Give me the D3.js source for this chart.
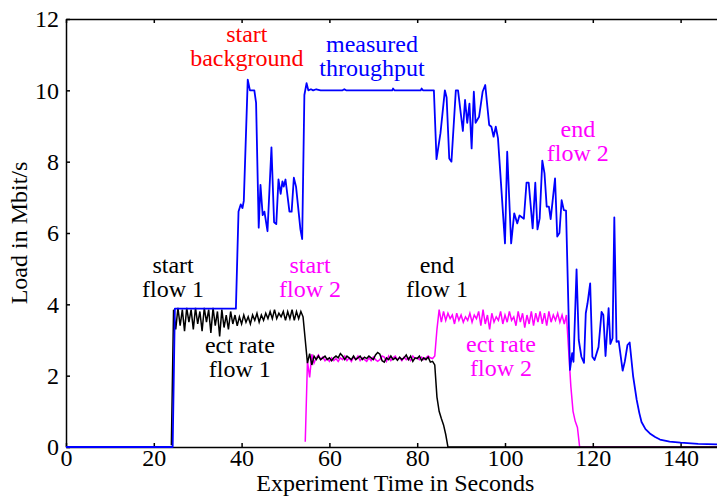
<!DOCTYPE html>
<html lang="en">
<head>
    <meta charset="UTF-8">
    <title>Load in Mbit/s</title>
    <style>
        body { margin: 0; background: #fff; }
        svg { display: block; font-family: "Liberation Serif", "DejaVu Serif", serif; }
    </style>
</head>
<body>
<div id="chart"></div>

<script src="https://cdn.jsdelivr.net/npm/d3@7"></script>
<script>

    // measured throughput, [seconds, Mbit/s]
    let throughput = [
        [0, 0], [24.3, 0], [24.8, 3.88], [38.7, 3.88], [39.3, 6.6], [39.8, 6.8], [40.2, 6.7], [40.5, 6.9],
        [41.4, 10.3], [41.9, 10.0], [42.9, 10.0], [43.3, 9.65], [43.9, 6.15], [44.3, 7.35], [44.8, 6.5],
        [45.2, 6.6], [45.9, 6.05], [46.8, 8.4], [47.4, 6.3], [47.9, 6.25], [48.4, 7.5], [48.9, 7.1],
        [49.3, 7.45], [49.6, 7.3], [50.0, 7.5], [50.9, 6.6], [51.4, 6.6], [51.9, 7.55], [52.4, 7.3],
        [53.4, 6.1], [53.8, 5.83], [54.3, 9.87], [54.8, 10.2], [55.2, 10.0], [55.8, 10.03], [56.3, 10.0],
        [57.0, 10.03], [58.0, 10.0], [63.0, 10.0], [63.4, 10.03], [63.8, 10.0], [74.3, 10.0], [74.5, 10.05],
        [74.8, 10.0], [80.8, 10.0], [81.0, 10.05], [81.3, 10.0], [83.8, 10.0],
        [84.4, 8.07], [85.3, 8.8], [86.3, 10.0], [86.7, 9.8], [87.3, 8.09], [87.8, 8.0], [88.8, 10.0],
        [89.3, 10.0], [90.4, 8.86], [90.9, 9.73], [91.4, 9.09], [91.9, 9.63], [92.4, 8.37], [92.9, 9.96],
        [93.3, 9.09], [94.1, 9.26], [94.9, 9.96], [95.5, 10.15], [96.4, 9.03], [96.9, 8.98], [97.4, 8.7],
        [97.9, 8.98], [98.4, 8.66], [100.0, 5.71], [100.5, 8.28], [101.4, 5.71], [102.1, 6.55],
        [102.8, 6.27], [103.3, 6.49], [104.3, 6.4], [104.9, 7.41], [105.4, 7.41], [106.3, 6.13],
        [106.9, 7.41], [107.4, 6.1], [107.9, 6.41], [108.5, 8.03], [109.0, 7.67], [109.5, 6.74],
        [110.0, 6.74], [110.4, 6.39], [111.4, 7.53], [111.9, 5.9], [112.4, 6.0], [112.9, 6.92],
        [113.4, 6.64], [113.9, 6.63], [114.8, 2.16], [115.3, 2.63], [115.6, 2.39], [116.3, 4.98],
        [116.8, 3.0], [117.4, 2.53], [118.0, 2.36], [118.4, 3.75], [118.8, 4.03], [119.4, 4.59],
        [119.9, 2.53], [120.4, 2.44], [121.3, 2.8], [122.0, 3.79], [122.4, 3.7], [122.9, 2.55],
        [123.6, 3.89], [124.0, 2.89], [124.5, 3.05], [124.9, 6.44], [125.4, 2.95], [125.9, 2.97],
        [126.8, 2.14], [127.3, 2.4], [127.9, 2.86], [128.4, 2.93], [129.2, 1.97], [130.0, 1.32],
        [130.6, 0.95], [131.1, 0.7], [132.0, 0.5], [133.0, 0.38], [134.2, 0.28], [135.3, 0.21],
        [137.5, 0.15], [140, 0.12], [144, 0.09], [150, 0.07]
    ]

    // ect rate of flow 1, sampled every half second from 24 s
    let flow1Start = 24
    let flow1Rate = [
        0.05, 3.85, 3.3, 3.9, 3.4, 3.85, 3.25, 3.9, 3.5, 3.85, 3.3, 3.9, 3.45, 3.8, 3.25, 3.9,
        3.5, 3.85, 3.2, 3.9, 3.4, 3.8, 3.1, 3.85, 3.35, 3.7, 3.3, 3.8, 3.45, 3.7, 3.4, 3.65,
        3.45, 3.7, 3.5, 3.65, 3.45, 3.7, 3.55, 3.75, 3.5, 3.7, 3.55, 3.75, 3.6, 3.8, 3.6, 3.85,
        3.6, 3.75, 3.65, 3.8, 3.55, 3.8, 3.6, 3.85, 3.55, 3.8, 3.6, 3.8, 3.65, 3.0, 2.35, 2.62,
        2.3, 2.55, 2.45, 2.55, 2.45, 2.5, 2.55, 2.45, 2.5, 2.42, 2.5, 2.55, 2.5, 2.62, 2.55, 2.45,
        2.55, 2.5, 2.45, 2.55, 2.45, 2.5, 2.55, 2.45, 2.52, 2.48, 2.55, 2.5, 2.45, 2.58, 2.65, 2.6,
        2.42, 2.38, 2.5, 2.45, 2.55, 2.45, 2.5, 2.43, 2.52, 2.45, 2.5, 2.58, 2.45, 2.55, 2.4, 2.5,
        2.48, 2.55, 2.42, 2.5, 2.45, 2.52, 2.38, 2.4, 2.3, 1.4, 1.0, 0.8, 0.62, 0.35, 0.0
    ]

    // ect rate of flow 2, sampled every half second from 54.5 s
    let flow2Start = 54.5
    let flow2Rate = [
        0.15, 2.4, 1.95, 2.6, 2.35, 2.5, 2.58, 2.45, 2.52, 2.42, 2.48, 2.4, 2.5, 2.42, 2.48, 2.4,
        2.5, 2.45, 2.55, 2.42, 2.5, 2.4, 2.52, 2.45, 2.55, 2.42, 2.5, 2.45, 2.4, 2.5, 2.42, 2.52,
        2.45, 2.4, 2.45, 2.55, 2.52, 2.4, 2.55, 2.42, 2.5, 2.55, 2.45, 2.5, 2.42, 2.52, 2.45, 2.5,
        2.42, 2.55, 2.48, 2.5, 2.45, 2.52, 2.45, 2.5, 2.55, 2.5, 2.48, 2.55, 3.3, 3.85, 3.5, 3.8,
        3.55, 3.75, 3.6, 3.7, 3.45, 3.75, 3.55, 3.7, 3.5, 3.65, 3.55, 3.75, 3.5, 3.7, 3.6, 3.8,
        3.4, 3.85, 3.45, 3.7, 3.3, 3.75, 3.5, 3.65, 3.55, 3.8, 3.45, 3.7, 3.5, 3.8, 3.55, 3.65,
        3.4, 3.8, 3.5, 3.75, 3.35, 3.7, 3.45, 3.8, 3.4, 3.75, 3.5, 3.8, 3.45, 3.75, 3.4, 3.8,
        3.5, 3.7, 3.55, 3.75, 3.5, 3.7, 3.45, 3.7, 2.7, 1.7, 1.0, 0.72, 0.55, 0.0
    ]
    let sampleStep = 0.5

    let xTicks = [0, 20, 40, 60, 80, 100, 120, 140]
    let yTicks = [0, 2, 4, 6, 8, 10, 12]

    // annotations: text lines, anchor in data units (centre, first baseline)
    let notes = [
        {lines: ['start', 'background'], t: 41.2, v: 11.35, color: '#ff0000'},
        {lines: ['measured', 'throughput'], t: 69.7, v: 11.08, color: '#0000ff'},
        {lines: ['end', 'flow 2'], t: 116.6, v: 8.68, color: '#ff00ff'},
        {lines: ['start', 'flow 1'], t: 24.4, v: 4.89, color: '#000000'},
        {lines: ['start', 'flow 2'], t: 55.6, v: 4.89, color: '#ff00ff'},
        {lines: ['end', 'flow 1'], t: 84.5, v: 4.89, color: '#000000'},
        {lines: ['ect rate', 'flow 1'], t: 39.6, v: 2.64, color: '#000000'},
        {lines: ['ect rate', 'flow 2'], t: 99.1, v: 2.67, color: '#ff00ff'}
    ]

    function sampled(start, values) {
        let pts = values.map((v, i) => [start + i * sampleStep, v])
        pts.push([150, 0])
        return pts
    }

    function render() {
        let width = 717,
            height = 498

        let x = d3.scaleLinear().domain([0, 150]).range([66, 724.5])
        let y = d3.scaleLinear().domain([0, 12]).range([447, 19])

        let svg = d3.select('#chart').append('svg')
            .attr('width', width)
            .attr('height', height)

        let line = d3.line()
            .x(d => x(d[0]))
            .y(d => y(d[1]))

        svg.append('path')
            .datum(sampled(flow2Start, flow2Rate))
            .attr('d', line)
            .attr('fill', 'none')
            .attr('stroke', '#ff00ff')
            .attr('stroke-width', 1.5)

        svg.append('path')
            .datum(sampled(flow1Start, flow1Rate))
            .attr('d', line)
            .attr('fill', 'none')
            .attr('stroke', '#000')
            .attr('stroke-width', 1.5)

        let axisStyle = g => {
            g.attr('font-family', null).attr('font-size', null)
            g.selectAll('path, line').attr('stroke', '#000').attr('stroke-width', 1.5)
            g.selectAll('text').attr('fill', '#000').style('font-size', '24px')
                .style('font-family', '"Liberation Serif", serif')
        }

        svg.append('g')
            .attr('transform', `translate(0, ${y(0)})`)
            .call(d3.axisBottom(x).tickValues(xTicks).tickSizeInner(-4).tickSizeOuter(0).tickPadding(2))
            .call(axisStyle)

        svg.append('g')
            .attr('transform', `translate(0, ${y(12)})`)
            .call(d3.axisTop(x).tickValues(xTicks).tickSizeInner(-4).tickSizeOuter(0).tickFormat(''))
            .call(axisStyle)

        svg.append('g')
            .attr('transform', `translate(${x(0)}, 0)`)
            .call(d3.axisLeft(y).tickValues(yTicks).tickSizeInner(-4).tickSizeOuter(0).tickPadding(7))
            .call(axisStyle)

        svg.append('path')
            .datum(throughput)
            .attr('d', line)
            .attr('fill', 'none')
            .attr('stroke', '#0000ff')
            .attr('stroke-width', 1.8)
            .attr('stroke-linejoin', 'round')

        let noteG = svg.append('g')
            .style('font-size', '24px')
            .attr('text-anchor', 'middle')

        notes.forEach(n => {
            let t = noteG.append('text')
                .attr('x', x(n.t))
                .attr('y', y(n.v))
                .attr('fill', n.color)
            n.lines.forEach((s, i) => {
                t.append('tspan')
                    .attr('x', x(n.t))
                    .attr('dy', i ? 24 : 0)
                    .text(s)
            })
        })

        svg.append('text')
            .attr('x', x(75))
            .attr('y', 491)
            .attr('text-anchor', 'middle')
            .style('font-size', '24px')
            .text('Experiment Time in Seconds')

        svg.append('text')
            .attr('transform', `translate(27, ${(y(0) + y(12)) / 2}) rotate(-90)`)
            .attr('text-anchor', 'middle')
            .style('font-size', '24px')
            .text('Load in Mbit/s')
    }

    render()

</script>
</body>
</html>
